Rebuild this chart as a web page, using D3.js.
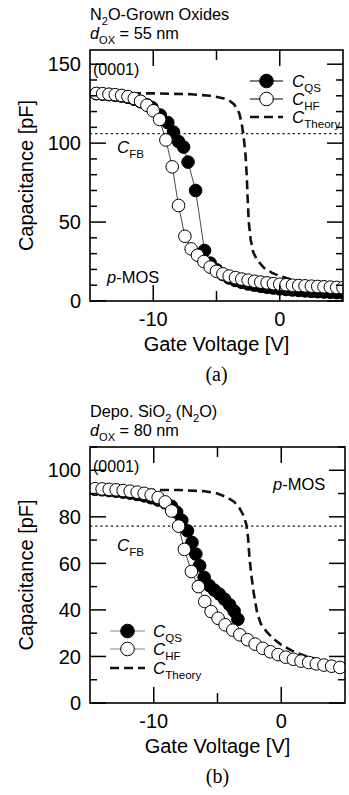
<!DOCTYPE html>
<html>
<head>
<meta charset="utf-8">
<script src="https://cdn.jsdelivr.net/npm/d3@7"></script>
<style>
  body { margin: 0; background: #fff; }
  svg { display: block; }
</style>
</head>
<body>
<div id="chart"></div>
<script>
// ---- panel (a) data : N2O-grown oxides ----
const hfVoltA = [-14.5, -14, -13.5, -13, -12.5, -12, -11.5, -11, -10.5, -10, -9.5, -9, -8.5, -8, -7.5, -7, -6.5, -6, -5.5, -5, -4.5, -4, -3.5, -3, -2.5, -2, -1.5, -1, -0.5, 0, 0.5, 1, 1.5, 2, 2.5, 3, 3.5, 4, 4.5, 5];
const hfCapA = [131.5, 131.3, 131, 130.7, 130.2, 129.5, 128.3, 126.5, 124, 120.5, 115, 102, 85, 60.5, 41, 33, 29, 25, 21.5, 18.8, 17.2, 15.8, 14.8, 13.9, 13.2, 12.5, 12, 11.5, 11, 10.6, 10.3, 10, 9.8, 9.6, 9.4, 9.2, 9, 8.8, 8.6, 8.4];
const qsVoltA = [-14.5, -14, -13.5, -13, -12.5, -12, -11.5, -11, -10.5, -10.1, -9.45, -8.85, -8.4, -8, -7.6, -7.25, -6.65, -5.95, -5.5, -5, -4.5, -4, -3.5, -3, -2.5, -2, -1.5, -1, -0.5, 0, 0.5, 1, 1.5, 2, 2.5, 3, 3.5, 4, 4.5, 5];
const qsCapA = [131.3, 131, 130.7, 130.3, 129.8, 129, 127.8, 126.2, 124.3, 122.5, 117.8, 113, 107, 101, 97.5, 88, 70, 32, 24, 19.8, 16.8, 14.6, 13, 11.8, 10.8, 10, 9.3, 8.7, 8.2, 7.7, 7.3, 7, 6.7, 6.4, 6.1, 5.9, 5.7, 5.5, 5.3, 5.1];
const thVoltA = [-15, -10, -7, -5.5, -4.5, -4, -3.6, -3.2, -3, -2.85, -2.7, -2.6, -2.55, -2.45, -2.3, -2.1, -1.8, -1.25, -0.6, 0, 1, 2, 3, 4, 5];
const thCapA = [131.5, 131.5, 131, 130, 128.5, 127, 124.5, 119, 112, 104, 92, 78, 67, 50, 39, 31, 26, 21, 17.8, 15.8, 13.3, 12, 11, 10.3, 9.8];
const cfbA = 106;

// ---- panel (b) data : deposited SiO2 (N2O) ----
const hfVoltB = [-14.6, -14.05, -13.5, -12.95, -12.4, -11.85, -11.3, -10.75, -10.2, -9.65, -9.1, -8.6, -8.05, -7.6, -7.05, -6.5, -6, -5.5, -4.95, -4.4, -3.8, -3.25, -2.65, -2.05, -1.45, -0.85, -0.25, 0.35, 0.95, 1.55, 2.15, 2.75, 3.35, 3.95, 4.6];
const hfCapB = [92.1, 92, 91.8, 91.6, 91.3, 91, 90.6, 90.1, 89.4, 88.3, 86.4, 82.5, 76, 66, 56.5, 50, 43.6, 39.3, 36.4, 33.6, 31.3, 29.3, 27.2, 25.3, 23.5, 22, 20.8, 19.7, 18.8, 18, 17.4, 16.8, 16.3, 15.8, 15.3];
const qsVoltB = [-14.6, -14.05, -13.5, -12.95, -12.4, -11.85, -11.3, -10.75, -10.2, -9.65, -9.1, -8.6, -8.2, -7.8, -7.35, -7, -6.7, -6.4, -6.05, -5.65, -5.25, -4.85, -4.45, -4.05, -3.7, -3.4];
const qsCapB = [91.8, 91.6, 91.3, 91, 90.6, 90.2, 89.6, 89, 88.2, 87.2, 86, 84.5, 82, 78.5, 74, 69, 64, 59, 54, 50.5, 48.5, 46.8, 44.6, 42.2, 39.5, 36];
const thVoltB = [-15, -8, -6, -5, -4.3, -3.7, -3.3, -3, -2.75, -2.6, -2.5, -2.35, -2.15, -1.9, -1.6, -1.2, -0.6, 0, 0.5, 1, 2, 3, 4, 5];
const thCapB = [91.5, 91.5, 91, 90, 88.5, 86.5, 84, 81, 77, 71, 63, 55, 47, 39, 34, 31, 27.5, 25, 23.5, 22, 20, 18.5, 17.3, 16.5];
const cfbB = 76;

// axis ticks
const xDomain = [-15, 5];
const xLabelTicks = [-10, 0];
const xMinorTicks = [-5];

const FONT = "Arial, 'Liberation Sans', sans-serif";

const svg = d3.select('#chart').append('svg')
  .attr('width', 349)
  .attr('height', 795);

function zip(xs, ys) {
  return xs.map((x, i) => ({ v: x, c: ys[i] }));
}

// text with a subscript: parts = [[text, italic, sub], ...]
function richText(g, x, y, parts, size, anchor) {
  const t = g.append('text')
    .attr('x', x).attr('y', y)
    .attr('font-family', FONT)
    .attr('font-size', size)
    .attr('text-anchor', anchor || 'start');
  let shifted = false;
  parts.forEach(p => {
    const s = t.append('tspan').text(p[0]);
    if (p[1]) s.attr('font-style', 'italic');
    if (p[2] && !shifted) { s.attr('dy', size * 0.28).attr('font-size', size * 0.68); shifted = true; }
    else if (p[2]) { s.attr('font-size', size * 0.68); }
    else if (shifted) { s.attr('dy', -size * 0.28); shifted = false; }
  });
  return t;
}

function drawPanel(cfg) {
  const g = svg.append('g');
  const x = d3.scaleLinear().domain(xDomain).range([cfg.left, cfg.right]);
  const y = d3.scaleLinear().domain([0, cfg.yMax]).range([cfg.bottom, cfg.top]);

  // titles
  richText(g, cfg.left, cfg.top - 30, cfg.title1, 16.3);
  richText(g, cfg.left, cfg.top - 11, cfg.title2, 16.3);

  // clip for plot area
  const clipId = 'clip' + cfg.name;
  g.append('clipPath').attr('id', clipId)
    .append('rect')
    .attr('x', cfg.left).attr('y', cfg.top)
    .attr('width', cfg.right - cfg.left).attr('height', cfg.bottom - cfg.top);
  const plot = g.append('g').attr('clip-path', `url(#${clipId})`);

  // C_FB dotted line
  plot.append('line')
    .attr('x1', cfg.left).attr('x2', cfg.right)
    .attr('y1', y(cfg.cfb)).attr('y2', y(cfg.cfb))
    .attr('stroke', '#111').attr('stroke-width', 1.2)
    .attr('stroke-dasharray', '2.2,3');

  const line = d3.line().x(d => x(d.v)).y(d => y(d.c));

  // theory curve
  plot.append('path')
    .attr('d', line(zip(cfg.thV, cfg.thC)))
    .attr('fill', 'none').attr('stroke', '#111')
    .attr('stroke-width', 2.6).attr('stroke-dasharray', '9,5');

  // quasi-static (filled)
  const qs = zip(cfg.qsV, cfg.qsC);
  plot.append('path').attr('d', line(qs))
    .attr('fill', 'none').attr('stroke', '#333').attr('stroke-width', 0.9);
  plot.selectAll('circle.qs').data(qs).enter().append('circle')
    .attr('class', 'qs')
    .attr('cx', d => x(d.v)).attr('cy', d => y(d.c)).attr('r', 6.3)
    .attr('fill', '#000').attr('stroke', '#000').attr('stroke-width', 1);

  // high frequency (open)
  const hf = zip(cfg.hfV, cfg.hfC);
  plot.append('path').attr('d', line(hf))
    .attr('fill', 'none').attr('stroke', '#333').attr('stroke-width', 0.9);
  plot.selectAll('circle.hf').data(hf).enter().append('circle')
    .attr('class', 'hf')
    .attr('cx', d => x(d.v)).attr('cy', d => y(d.c)).attr('r', 6.3)
    .attr('fill', '#fff').attr('stroke', '#000').attr('stroke-width', 1);

  // frame
  g.append('rect')
    .attr('x', cfg.left).attr('y', cfg.top)
    .attr('width', cfg.right - cfg.left).attr('height', cfg.bottom - cfg.top)
    .attr('fill', 'none').attr('stroke', '#000').attr('stroke-width', 1.6);

  // y ticks, both sides, inward
  const yTicks = d3.range(0, cfg.yMax + 0.01, 10);
  yTicks.forEach(t => {
    const major = t % cfg.yMajor === 0;
    const len = major ? 16 : 7;
    g.append('line').attr('x1', cfg.left).attr('x2', cfg.left + len)
      .attr('y1', y(t)).attr('y2', y(t)).attr('stroke', '#000').attr('stroke-width', 1.5);
    g.append('line').attr('x1', cfg.right).attr('x2', cfg.right - len)
      .attr('y1', y(t)).attr('y2', y(t)).attr('stroke', '#000').attr('stroke-width', 1.5);
    if (major) {
      g.append('text')
        .attr('x', cfg.left - 9).attr('y', y(t)).attr('dy', '0.36em')
        .attr('text-anchor', 'end')
        .attr('font-family', FONT).attr('font-size', 20)
        .text(t);
    }
  });

  // x ticks, top and bottom, inward
  xLabelTicks.concat(xMinorTicks).forEach(t => {
    const major = xLabelTicks.includes(t);
    const len = major ? 16 : 10;
    g.append('line').attr('x1', x(t)).attr('x2', x(t))
      .attr('y1', cfg.bottom).attr('y2', cfg.bottom - len)
      .attr('stroke', '#000').attr('stroke-width', 1.5);
    g.append('line').attr('x1', x(t)).attr('x2', x(t))
      .attr('y1', cfg.top).attr('y2', cfg.top + len)
      .attr('stroke', '#000').attr('stroke-width', 1.5);
    if (major) {
      g.append('text')
        .attr('x', x(t)).attr('y', cfg.bottom + 25)
        .attr('text-anchor', 'middle')
        .attr('font-family', FONT).attr('font-size', 20)
        .text(t);
    }
  });

  // axis titles
  g.append('text')
    .attr('x', (cfg.left + cfg.right) / 2).attr('y', cfg.bottom + 50)
    .attr('text-anchor', 'middle')
    .attr('font-family', FONT).attr('font-size', 20)
    .text('Gate Voltage [V]');
  g.append('text')
    .attr('transform', `translate(33, ${(cfg.top + cfg.bottom) / 2}) rotate(-90)`)
    .attr('text-anchor', 'middle')
    .attr('font-family', FONT).attr('font-size', 20)
    .text('Capacitance [pF]');

  // panel label
  g.append('text')
    .attr('x', (cfg.left + cfg.right) / 2).attr('y', cfg.bottom + 80)
    .attr('text-anchor', 'middle')
    .attr('font-family', "'Liberation Serif', 'Times New Roman', serif").attr('font-size', 20)
    .text(cfg.label);

  // annotations
  g.append('text').attr('x', cfg.left + 3).attr('y', cfg.orientY)
    .attr('font-family', FONT).attr('font-size', 16).text('(0001)');
  richText(g, cfg.mosX, cfg.mosY, [['p', true], ['-MOS', false]], 16.5);
  richText(g, 117, cfg.cfbLabelY, [['C', true], ['FB', false, true]], 17);

  // legend
  const lg = cfg.legend;
  const rows = [
    { name: 'QS', fill: '#000' },
    { name: 'HF', fill: '#fff' },
    { name: 'Theory', fill: null }
  ];
  rows.forEach((r, i) => {
    const yy = lg.ys[i];
    if (r.fill) {
      g.append('line').attr('x1', lg.x1).attr('x2', lg.x2)
        .attr('y1', yy).attr('y2', yy)
        .attr('stroke', lg.lineColor).attr('stroke-width', 1);
      g.append('circle').attr('cx', (lg.x1 + lg.x2) / 2).attr('cy', yy).attr('r', 6.8)
        .attr('fill', r.fill).attr('stroke', '#000').attr('stroke-width', 1);
    } else {
      g.append('line').attr('x1', lg.x1).attr('x2', lg.x2)
        .attr('y1', yy).attr('y2', yy)
        .attr('stroke', '#111').attr('stroke-width', 2.6)
        .attr('stroke-dasharray', '9,5');
    }
    richText(g, lg.tx, yy + 6, [['C', true], [r.name, false, true]], 17);
  });
}

drawPanel({
  name: 'a', label: '(a)',
  left: 90, right: 343, top: 50, bottom: 301, yMax: 159, yMajor: 50,
  title1: [['N', false], ['2', false, true], ['O-Grown Oxides', false]],
  title2: [['d', true], ['OX', false, true], [' = 55 nm', false]],
  hfV: hfVoltA, hfC: hfCapA, qsV: qsVoltA, qsC: qsCapA, thV: thVoltA, thC: thCapA, cfb: cfbA,
  orientY: 75, mosX: 107, mosY: 283, cfbLabelY: 153,
  legend: { x1: 250, x2: 283, tx: 292, ys: [81, 99, 117], lineColor: '#000' }
});

drawPanel({
  name: 'b', label: '(b)',
  left: 90, right: 345, top: 447, bottom: 703, yMax: 110, yMajor: 20,
  title1: [['Depo. SiO', false], ['2', false, true], [' (N', false], ['2', false, true], ['O)', false]],
  title2: [['d', true], ['OX', false, true], [' = 80 nm', false]],
  hfV: hfVoltB, hfC: hfCapB, qsV: qsVoltB, qsC: qsCapB, thV: thVoltB, thC: thCapB, cfb: cfbB,
  orientY: 472, mosX: 273, mosY: 490, cfbLabelY: 551,
  legend: { x1: 110, x2: 145, tx: 153, ys: [631, 649, 668], lineColor: '#888' }
});
</script>
</body>
</html>
